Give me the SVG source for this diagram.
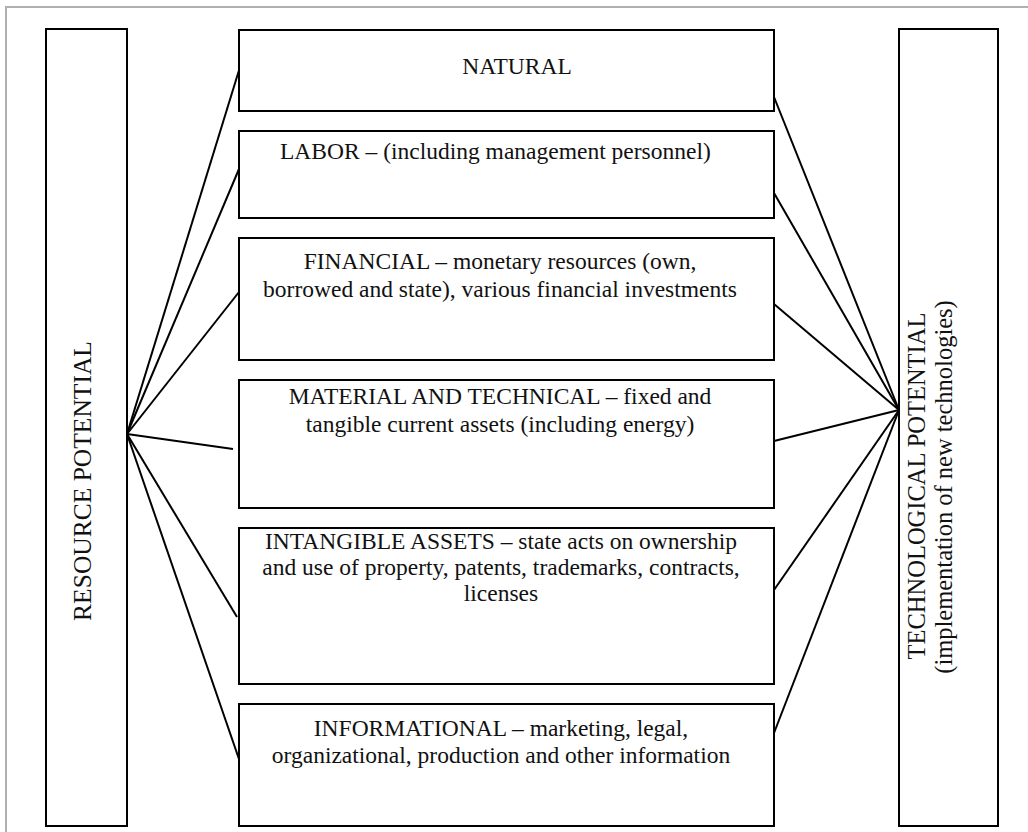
<svg xmlns="http://www.w3.org/2000/svg" width="1028" height="832" viewBox="0 0 1028 832">
  <style>
    .box { fill: #fff; stroke: #000; stroke-width: 2; }
    .frame { fill: none; stroke: #b0b0b0; stroke-width: 2; }
    .link { stroke: #000; stroke-width: 2; fill: none; }
    text { font-family: "Liberation Serif", "DejaVu Serif", "Times New Roman", serif; font-size: 23.5px; fill: #111; }
    .c { text-anchor: middle; }
    .side { font-size: 24.5px; }
  </style>
  <rect width="1028" height="832" fill="#fff"/>
  <path class="frame" d="M6,832 V7 H1028"/>

  <g id="connectors">
    <line class="link" x1="127" y1="434" x2="240" y2="67"/>
    <line class="link" x1="127" y1="434" x2="239" y2="169"/>
    <line class="link" x1="127" y1="434" x2="239" y2="292"/>
    <line class="link" x1="127" y1="434" x2="233" y2="449"/>
    <line class="link" x1="127" y1="434" x2="237" y2="617"/>
    <line class="link" x1="127" y1="434" x2="240" y2="762"/>
    <line class="link" x1="899" y1="410" x2="774" y2="97"/>
    <line class="link" x1="899" y1="410" x2="774" y2="193"/>
    <line class="link" x1="899" y1="410" x2="774" y2="304"/>
    <line class="link" x1="899" y1="410" x2="774" y2="441"/>
    <line class="link" x1="899" y1="410" x2="774" y2="590"/>
    <line class="link" x1="899" y1="410" x2="774" y2="733"/>
  </g>

  <g id="resource-potential">
    <rect class="box" x="46" y="29" width="81" height="797"/>
    <text class="c side" style="font-size:25.5px" transform="translate(91,481) rotate(-90)">RESOURCE POTENTIAL</text>
  </g>

  <g id="technological-potential">
    <rect class="box" x="899" y="29" width="99" height="797"/>
    <text class="c side" transform="translate(925,486) rotate(-90)">TECHNOLOGICAL POTENTIAL</text>
    <text class="c side" transform="translate(952,487) rotate(-90)">(implementation of new technologies)</text>
  </g>

  <g id="natural">
    <rect class="box" x="239" y="30" width="535" height="81"/>
    <text class="c" x="517" y="74">NATURAL</text>
  </g>

  <g id="labor">
    <rect class="box" x="239" y="131" width="535" height="87"/>
    <text x="280" y="159">LABOR – (including management personnel)</text>
  </g>

  <g id="financial">
    <rect class="box" x="239" y="238" width="535" height="122"/>
    <text class="c" x="500" y="269">FINANCIAL – monetary resources (own,</text>
    <text class="c" x="500" y="297">borrowed and state), various financial investments</text>
  </g>

  <g id="material-technical">
    <rect class="box" x="239" y="380" width="535" height="128"/>
    <text class="c" x="500" y="404">MATERIAL AND TECHNICAL – fixed and</text>
    <text class="c" x="500" y="432">tangible current assets (including energy)</text>
  </g>

  <g id="intangible-assets">
    <rect class="box" x="239" y="528" width="535" height="156"/>
    <text class="c" x="501" y="549">INTANGIBLE ASSETS – state acts on ownership</text>
    <text class="c" x="501" y="575">and use of property, patents, trademarks, contracts,</text>
    <text class="c" x="501" y="601">licenses</text>
  </g>

  <g id="informational">
    <rect class="box" x="239" y="704" width="535" height="122"/>
    <text class="c" x="501" y="736">INFORMATIONAL – marketing, legal,</text>
    <text class="c" x="501" y="763">organizational, production and other information</text>
  </g>
</svg>
